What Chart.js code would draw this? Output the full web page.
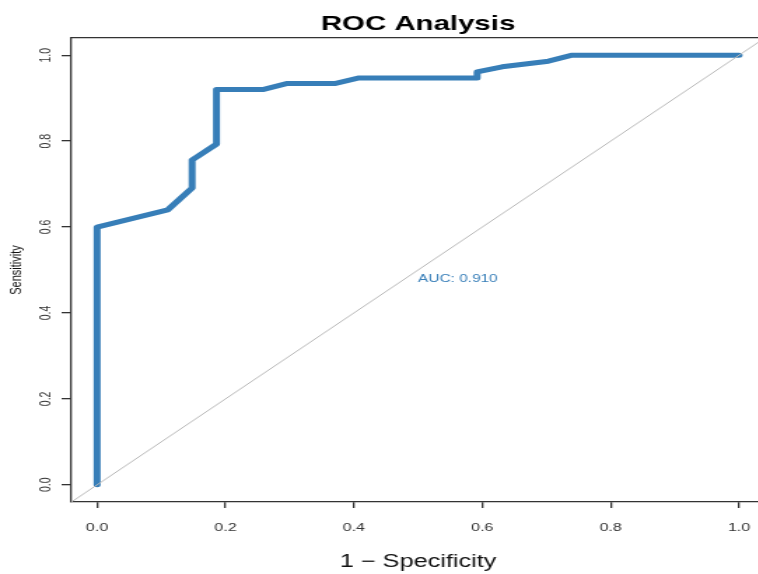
<!DOCTYPE html>
<html>
<head>
<meta charset="utf-8">
<script src="https://cdn.jsdelivr.net/npm/chart.js@4/dist/chart.umd.min.js"></script>
<style>
  html, body { margin: 0; padding: 0; background: #fff; overflow: hidden; }
  #wrap { width: 758px; height: 574px; overflow: hidden; }
  /* the reference is stretched sideways, so the canvas is too */
  #roc { transform: scaleX(1.4); transform-origin: 0 0; display: block; }
</style>
</head>
<body>
<div id="wrap"><canvas id="roc" width="549" height="574"></canvas></div>
<script>
// ROC curve
var fpr = [0, 0, 0.110, 0.148, 0.148, 0.186, 0.186, 0.258, 0.295, 0.370, 0.408, 0.592, 0.592, 0.631, 0.703, 0.740, 1.0];
var tpr = [0, 0.600, 0.640, 0.691, 0.756, 0.793, 0.920, 0.920, 0.934, 0.934, 0.947, 0.947, 0.961, 0.973, 0.986, 1.0, 1.0];

// chance line
var diagX = [-0.04, 1.04];
var diagY = [-0.04, 1.04];

var xTicks = [0, 0.2, 0.4, 0.6, 0.8, 1.0];
var yTicks = [0, 0.2, 0.4, 0.6, 0.8, 1.0];

var aucText = 'AUC: 0.910';
var aucX = 0.5, aucY = 0.5;

var FONT = "'Liberation Sans', Arial, Helvetica, sans-serif";
var rocColor = '#377EB8';

function pts(xs, ys){
	var out = [];
	for (var i = 0; i < xs.length; i++) out.push({x: xs[i], y: ys[i]});
	return out;
}

var aucLabel = {
	id: 'aucLabel',
	afterDatasetsDraw: function(chart){
		var ctx = chart.ctx;
		ctx.save();
		ctx.font = '11px ' + FONT;
		ctx.fillStyle = rocColor;
		ctx.textAlign = 'left';
		ctx.textBaseline = 'top';
		ctx.fillText(aucText, chart.scales.x.getPixelForValue(aucX), chart.scales.y.getPixelForValue(aucY) + 3);
		ctx.restore();
	}
};

var ctx = document.getElementById('roc').getContext('2d');
var rocChart = new Chart(ctx, {
	type: 'line',
	data: {
		datasets: [{
			label: 'diag',
			data: pts(diagX, diagY),
			borderColor: '#b8b8b8',
			borderWidth: 1,
			pointRadius: 0,
			fill: false
		}, {
			label: 'ROC',
			data: pts(fpr, tpr),
			borderColor: rocColor,
			borderWidth: 5,
			borderCapStyle: 'round',
			borderJoinStyle: 'round',
			pointRadius: 0,
			tension: 0,
			fill: false
		}]
	},
	options: {
		responsive: false,
		animation: false,
		layout: { padding: { left: 0, right: 1, top: 0, bottom: 0 } },
		plugins: {
			legend: { display: false },
			tooltip: { enabled: false },
			title: { display: false }
		},
		scales: {
			x: {
				type: 'linear',
				position: 'bottom',
				min: -0.04, max: 1.04,
				afterBuildTicks: function(scale){ scale.ticks = xTicks.map(function(v){ return {value: v}; }); },
				afterFit: function(scale){ scale.height = 72; },
				ticks: {
					autoSkip: false, maxRotation: 0, padding: 13,
					color: '#333', font: { family: FONT, size: 11.5 },
					callback: function(v){ return v.toFixed(1); }
				},
				grid: { drawOnChartArea: false, drawTicks: true, tickLength: 6, color: '#333', lineWidth: 1.3 },
				border: { display: true, color: '#333', width: 1.3 },
				title: {
					display: true, text: '1 − Specificity', color: '#111',
					font: { family: FONT, size: 18 }, padding: { top: 1, bottom: 1 }
				}
			},
			x2: {
				type: 'linear',
				position: 'top',
				min: -0.04, max: 1.04,
				afterFit: function(scale){ scale.height = 38; },
				ticks: { display: false },
				grid: { display: false },
				border: { display: true, color: '#333', width: 1.3 },
				title: {
					display: true, text: 'ROC Analysis', color: '#000',
					font: { family: FONT, size: 21, weight: 'bold' }, padding: { top: 12, bottom: 0 }
				}
			},
			y: {
				type: 'linear',
				min: -0.04, max: 1.04,
				afterBuildTicks: function(scale){ scale.ticks = yTicks.map(function(v){ return {value: v}; }); },
				afterFit: function(scale){ scale.width = 51; },
				ticks: {
					autoSkip: false, minRotation: 90, maxRotation: 90, crossAlign: 'center', padding: 4,
					color: '#333', font: { family: FONT, size: 10.5 },
					callback: function(v){ return v.toFixed(1); }
				},
				grid: { drawOnChartArea: false, drawTicks: true, tickLength: 7, color: '#333', lineWidth: 1.3 },
				border: { display: true, color: '#333', width: 1.3 },
				title: {
					display: true, text: 'Sensitivity', color: '#111',
					font: { family: FONT, size: 11 }, padding: { top: 5, bottom: 0 }
				}
			}
		}
	},
	plugins: [aucLabel]
});
</script>
</body>
</html>
